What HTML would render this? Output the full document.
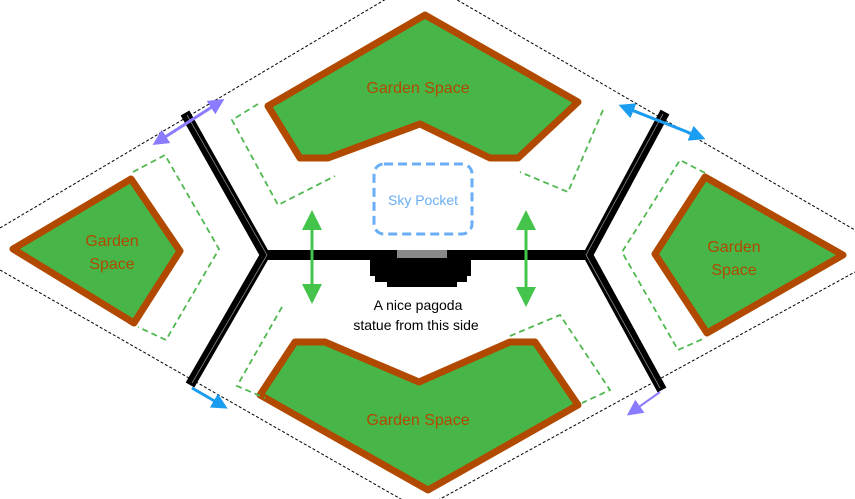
<!DOCTYPE html>
<html><head><meta charset="utf-8"><style>
html,body{margin:0;padding:0;background:#fff;}
svg{display:block;font-family:"Liberation Sans",sans-serif;}
</style></head><body>
<svg width="855" height="499" viewBox="0 0 855 499" xmlns="http://www.w3.org/2000/svg">
<defs>
<marker id="ag" viewBox="0 0 10 10" refX="3" refY="5" markerUnits="userSpaceOnUse" markerWidth="20" markerHeight="20" orient="auto-start-reverse"><path d="M0,0L10,5L0,10z" fill="#44c44a"/></marker>
<marker id="ap" viewBox="0 0 10 10" refX="3" refY="5" markerUnits="userSpaceOnUse" markerWidth="16" markerHeight="16" orient="auto-start-reverse"><path d="M0,0L10,5L0,10z" fill="#8b7cff"/></marker>
<marker id="ab" viewBox="0 0 10 10" refX="3" refY="5" markerUnits="userSpaceOnUse" markerWidth="16" markerHeight="16" orient="auto-start-reverse"><path d="M0,0L10,5L0,10z" fill="#1a9cf0"/></marker>
</defs>
<g stroke="#000" stroke-width="1" stroke-dasharray="3,2" fill="none">
<line x1="0" y1="228" x2="440" y2="-33"/>
<line x1="440" y1="-10" x2="855" y2="230"/>
<line x1="0" y1="270" x2="420" y2="510"/>
<line x1="420" y1="510" x2="855" y2="272"/>
</g>
<g fill="#47b548" stroke="#b14a00" stroke-width="7" stroke-linejoin="round">
<polygon points="268,106 425,15 578,102 518,158 490,158 420,124 328,158 300,158"/>
<polygon points="260,395 295,342 325,342 419,382 510,342 535,342 578,405 428,490"/>
<polygon points="13,249 131,179 180,251 134,323"/>
<polygon points="705,177 843,255 707,333 655,254"/>
</g>
<g stroke="#4fb84f" stroke-width="1.8" stroke-dasharray="6,4" fill="none">
<polyline points="258,104 232,120 278,205 335,176"/>
<polyline points="603,110 568,192 520,172"/>
<polyline points="133,172 165,155 219,249 166,340 138,327"/>
<polyline points="282,307 237,386 265,398"/>
<polyline points="510,336 560,315 610,390 582,403"/>
<polyline points="705,173 680,160 622,252 678,350 705,338"/>
</g>
<g stroke="#000" stroke-width="10" fill="none" stroke-linejoin="miter">
<polyline points="185,113 265,255 190,385"/>
<line x1="265" y1="255" x2="588" y2="255"/>
<polyline points="665,112 588,255 662,390"/>
</g>
<g stroke="#888" stroke-width="0.8" fill="none">
<polyline points="187,115 267,255 192,383"/>
<polyline points="663,114 586,255 660,388"/>
</g>
<rect x="397" y="250" width="50" height="8" fill="#888"/>
<path d="M370,258H471V276H467V282H457V287H387V282H375V276H370Z" fill="#000"/>
<rect x="374" y="164" width="98" height="70" rx="10" fill="none" stroke="#6aaef5" stroke-width="3" stroke-dasharray="9,5"/>
<text x="423" y="205" font-size="14" fill="#6aaef5" text-anchor="middle">Sky Pocket</text>
<line x1="312" y1="224" x2="312" y2="290" stroke="#44c44a" stroke-width="3" marker-start="url(#ag)" marker-end="url(#ag)"/>
<line x1="526" y1="224" x2="526" y2="293" stroke="#44c44a" stroke-width="3" marker-start="url(#ag)" marker-end="url(#ag)"/>
<line x1="162" y1="139" x2="215" y2="105" stroke="#8b7cff" stroke-width="3" marker-start="url(#ap)" marker-end="url(#ap)"/>
<line x1="629" y1="109" x2="695" y2="135" stroke="#1a9cf0" stroke-width="3" marker-start="url(#ab)" marker-end="url(#ab)"/>
<line x1="192" y1="388" x2="218" y2="403" stroke="#1a9cf0" stroke-width="3" marker-end="url(#ab)"/>
<line x1="660" y1="392" x2="636" y2="409" stroke="#8b7cff" stroke-width="2" marker-end="url(#ap)"/>
<g fill="#b14a00" font-size="16" text-anchor="middle">
<text x="418" y="93">Garden Space</text>
<text x="418" y="425">Garden Space</text>
<text x="112" y="246">Garden</text><text x="112" y="269">Space</text>
<text x="734" y="252">Garden</text><text x="734" y="275">Space</text>
</g>
<g fill="#000" font-size="14" text-anchor="middle">
<text x="418" y="310">A nice pagoda</text>
<text x="416" y="330">statue from this side</text>
</g>
</svg>
</body></html>
